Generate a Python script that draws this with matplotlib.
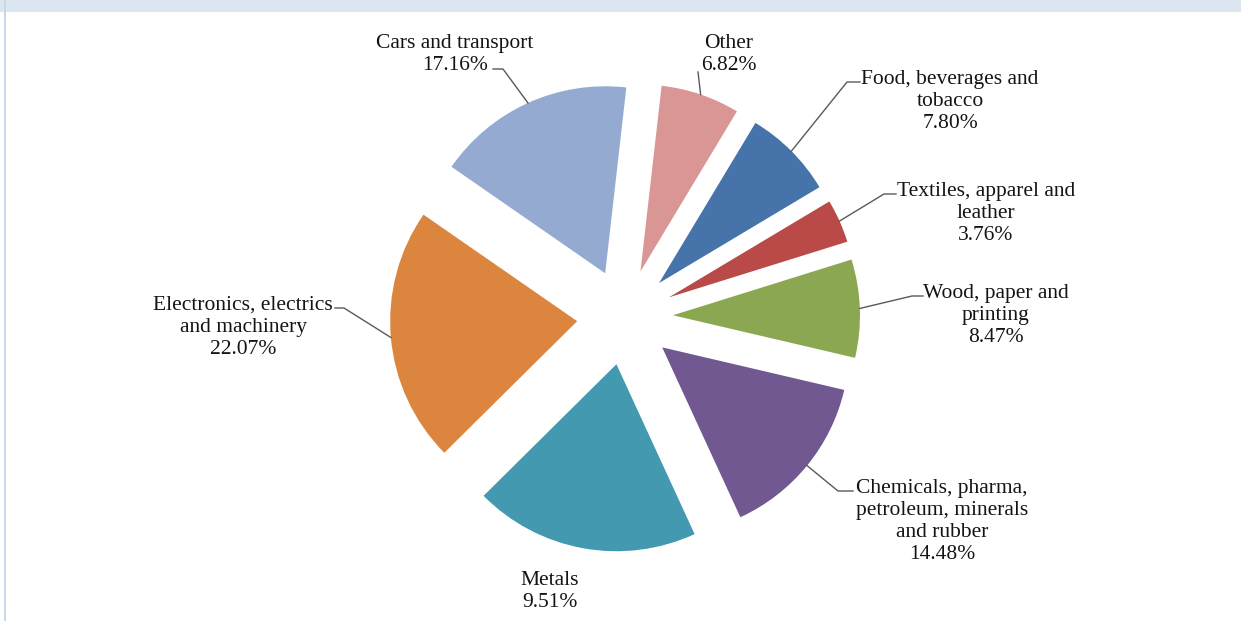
import numpy as np
import matplotlib.pyplot as plt
from matplotlib.patches import Rectangle

# data (clockwise from just right of 12 o'clock)
categories = ['Other', 'Food, beverages and\ntobacco', 'Textiles, apparel and\nleather',
              'Wood, paper and\nprinting', 'Chemicals, pharma,\npetroleum, minerals\nand rubber',
              'Metals', 'Electronics, electrics\nand machinery', 'Cars and transport']
# slice sizes as drawn in the picture
slice_values = [6.82, 7.80, 3.76, 8.47, 14.48, 19.44, 22.07, 17.16]
# percentages printed in the labels
pct_labels = ['6.82%', '7.80%', '3.76%', '8.47%', '14.48%', '9.51%', '22.07%', '17.16%']
colors = ['#d99694', '#4674aa', '#b94a47', '#8ca751', '#715891', '#4299b0', '#dc853e', '#94aad1']

W, H = 1241, 621
fig = plt.figure(figsize=(W / 100, H / 100), dpi=100)
fig.patch.set_facecolor('white')
ax = fig.add_axes([0, 0, 1, 1])

cx, cy, R = 625, H - 317, 187
wedges, _ = ax.pie(slice_values, colors=colors, startangle=83.5, counterclock=False,
                   radius=R, center=(cx, cy), explode=[48] * len(slice_values),
                   wedgeprops=dict(linewidth=0))
ax.set_xlim(0, W)
ax.set_ylim(0, H)
ax.set_aspect('equal')
ax.axis('off')

# label layout: (text center x, first line center y, elbow x, stub end x) in image px
label_pos = [
    (729, 40, None, None),
    (950, 76, 847, 860),
    (986, 188, 884, 896),
    (996, 290, 912, 923),
    (942, 485, 838, 853),
    (550, 577, None, None),
    (243, 302, 344, 335),
    (455, 40, 503, 493),
]
line_h = 23
serif = ['Liberation Serif', 'DejaVu Serif']

for w, cat, pct, (tx, ty, ex, sx) in zip(wedges, categories, pct_labels, label_pos):
    text = cat + '\n' + pct
    ax.text(tx, H - (ty - 6), text, ha='center', va='top', fontsize=15.5, family=serif,
            linespacing=1.22, color='#141414', transform=ax.transData)
    # anchor: outer arc at slice midpoint
    tm = np.deg2rad((w.theta1 + w.theta2) / 2)
    ax0 = w.center[0] + w.r * np.cos(tm)
    ay0 = w.center[1] + w.r * np.sin(tm)
    if ex is None:
        if cat == 'Other':
            ax.plot([698, ax0], [H - 72, ay0], color='#595959', lw=1)
        continue
    if cat == 'Cars and transport':
        ly = H - (ty + line_h + 6)
    else:
        ly = H - (ty + 6)
    ax.plot([ax0, ex, sx], [ay0, ly, ly], color='#595959', lw=1)

# light blue frame of the source page
fig.patches.append(Rectangle((0, 1 - 12 / H), 1, 12 / H, transform=fig.transFigure,
                             facecolor='#dce6f1', edgecolor='none'))
fig.patches.append(Rectangle((4 / W, 0), 2 / W, 1, transform=fig.transFigure,
                             facecolor='#c9d7ea', edgecolor='none'))

fig.savefig('out.png', dpi=100)
